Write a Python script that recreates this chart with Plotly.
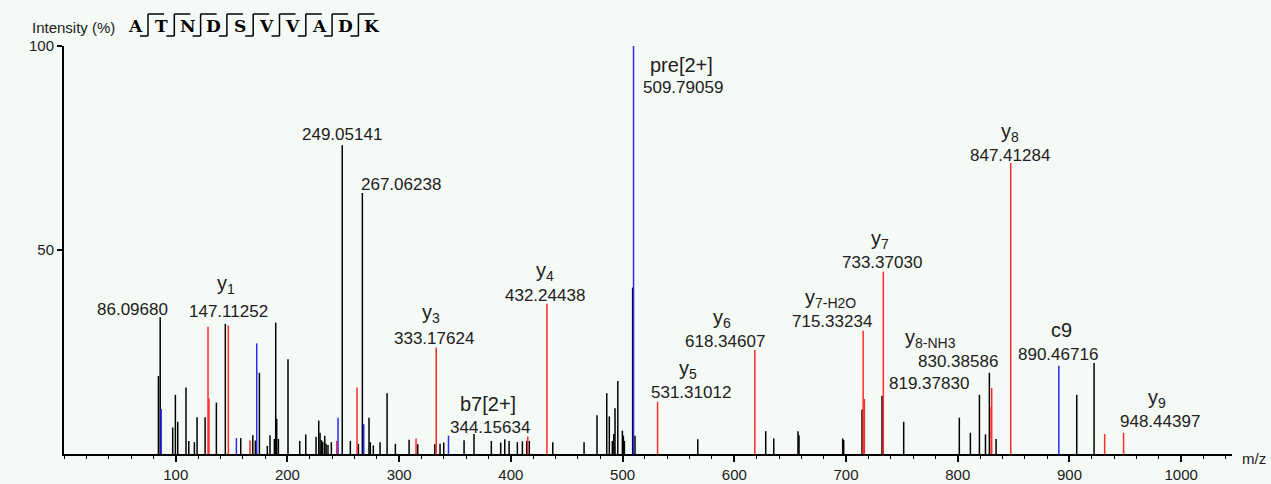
import plotly.graph_objects as go

# ---------------- data ----------------
black_mz = [84.5, 86.0968, 97.3, 99.7, 101.8, 109.2, 111.7, 116.7, 119.1, 126.3, 136.4, 144.4,
            158.2, 169.0, 171.3, 174.9, 182.0, 184.4, 188.3, 189.5, 190.4, 191.9, 200.5, 211.0,
            216.4, 225.6, 228.0, 229.2, 230.4, 231.6, 233.4, 234.6, 236.3, 239.3, 249.05141,
            256.3, 263.5, 267.06238, 273.0, 274.2, 276.9, 282.9, 289.2, 296.6, 308.9, 316.6,
            331.9, 336.6, 339.9, 358.1, 367.0, 382.5, 390.9, 394.5, 398.4, 405.8, 410.3, 414.2,
            416.5, 437.5, 465.5, 477.1, 485.8, 488.1, 490.8, 492.1, 493.2, 495.7, 499.8, 500.7,
            501.6, 509.0, 511.1, 567.3, 628.1, 635.3, 657.0, 657.9, 697.0, 697.9, 714.3, 732.2,
            751.6, 801.4, 811.3, 819.3783, 824.8, 828.3, 834.3, 906.5, 922.0]
black_int = [19.1, 33.5, 6.5, 14.5, 7.9, 16.3, 3.2, 2.9, 9.0, 9.0, 12.6, 31.9,
             3.9, 4.6, 3.3, 19.9, 2.0, 4.6, 3.7, 32.2, 8.6, 3.7, 23.2, 3.2,
             4.8, 4.2, 8.2, 5.2, 3.4, 3.0, 4.5, 2.5, 2.2, 2.9, 75.7,
             3.2, 2.5, 64.0, 8.9, 2.9, 2.1, 2.9, 14.9, 2.5, 3.5, 2.4,
             2.4, 2.5, 2.8, 3.4, 4.9, 3.2, 2.8, 3.6, 3.2, 2.9, 3.1, 3.2,
             3.2, 2.9, 2.9, 9.5, 14.9, 9.2, 3.2, 4.9, 11.2, 17.9, 5.7, 4.5,
             3.2, 40.8, 4.5, 3.6, 5.6, 3.8, 5.6, 4.6, 3.8, 3.4, 10.9, 14.3,
             7.9, 8.9, 5.2, 14.5, 4.8, 19.9, 3.7, 14.5, 22.3]

red_mz = [128.9, 129.8, 147.11252, 166.5, 244.1, 262.3, 315.1, 333.17624, 415.1, 432.24438,
          531.31012, 618.34607, 715.33234, 716.4, 733.3703, 829.9, 830.38586, 847.41284,
          931.5, 948.44397]
red_int = [31.2, 13.6, 31.5, 3.3, 3.2, 16.3, 3.8, 26.1, 4.3, 36.8,
           12.8, 25.5, 30.2, 13.5, 44.7, 11.6, 16.2, 71.3,
           4.9, 5.2]

blue_mz = [87.0, 154.3, 172.5, 245.3, 268.3, 344.15634, 509.79059, 890.46716]
blue_int = [11.0, 3.9, 27.1, 8.9, 7.3, 4.5, 100.0, 21.6]

# labelled peaks: (ion name, m/z value text)
label_names = ["", "y<sub>1</sub>", "", "", "y<sub>3</sub>", "b7[2+]", "y<sub>4</sub>",
               "pre[2+]", "y<sub>5</sub>", "y<sub>6</sub>", "y<sub>7-H2O</sub>", "y<sub>7</sub>",
               "y<sub>8-NH3</sub>", "", "y<sub>8</sub>", "c9", "y<sub>9</sub>"]
label_mz = ["86.09680", "147.11252", "249.05141", "267.06238", "333.17624", "344.15634",
            "432.24438", "509.79059", "531.31012", "618.34607", "715.33234", "733.37030",
            "830.38586", "819.37830", "847.41284", "890.46716", "948.44397"]

sequence = ["A", "T", "N", "D", "S", "V", "V", "A", "D", "K"]
x_ticks = [100, 200, 300, 400, 500, 600, 700, 800, 900, 1000]
y_ticks = [50, 100]

# ---------------- layout constants (pixels) ----------------
W, H = 1271, 484
L, R, T, B = 64, 39, 46, 30
PW, PH = W - L - R, H - T - B
XMAX = PW / 1.1172
BG = "#f6faf6"
FONT = "Liberation Sans, Arial, sans-serif"


def px(x):
    return (x - L) / PW


def py(y):
    return (H - B - y) / PH


def stems(mz, inten):
    xs, ys = [], []
    for m, v in zip(mz, inten):
        xs += [m, m, None]
        ys += [0, v, None]
    return xs, ys


fig = go.Figure()
for mz, inten, col in [(black_mz, black_int, "#000000"),
                       (red_mz, red_int, "#ff2a2a"),
                       (blue_mz, blue_int, "#2a2aff")]:
    xs, ys = stems(mz, inten)
    fig.add_trace(go.Scatter(x=xs, y=ys, mode="lines", line=dict(color=col, width=1.5),
                             hoverinfo="skip", showlegend=False))

# label placements: centre of m/z text in pixel coords; name sits above
num_pos = [(132, 309), (228, 311), (342, 134), (401, 184), (434, 338), (490, 427),
           (545, 295), (683, 87), (691, 392), (725, 341), (832, 321), (882, 262),
           (958, 361), (929, 383), (1010, 155), (1058, 354), (1160, 421)]
name_pos = [None, (226, 284), None, None, (431, 313), (488, 404), (545, 271),
            (681, 65), (688, 369), (722, 318), (830, 298), (880, 239),
            (930, 338), None, (1010, 132), (1061, 330), (1157, 398)]

for nm, val, npos, mpos in zip(label_names, label_mz, name_pos, num_pos):
    fig.add_annotation(xref="paper", yref="paper", x=px(mpos[0]), y=py(mpos[1]),
                       text=val, showarrow=False, xanchor="center", yanchor="middle",
                       font=dict(family=FONT, size=17, color="#202020"))
    if nm and npos:
        fig.add_annotation(xref="paper", yref="paper", x=px(npos[0]), y=py(npos[1]),
                           text=nm, showarrow=False, xanchor="center", yanchor="middle",
                           font=dict(family=FONT, size=20, color="#202020"))

# header
fig.add_annotation(xref="paper", yref="paper", x=px(30), y=py(28), text="Intensity (%)",
                   showarrow=False, xanchor="left", yanchor="middle",
                   font=dict(family=FONT, size=15, color="#202020"))
shapes = []
for i, aa in enumerate(sequence):
    cx = 135 + 26.3 * i
    fig.add_annotation(xref="paper", yref="paper", x=px(cx), y=py(26), text="<b>" + aa + "</b>",
                       showarrow=False, xanchor="center", yanchor="middle",
                       font=dict(family="DejaVu Serif", size=17, color="#000000"))
    if i < len(sequence) - 1:
        gx = 148 + 26.3 * i
        shapes.append(dict(type="line", xref="paper", yref="paper", x0=px(gx), x1=px(gx),
                           y0=py(14), y1=py(36), line=dict(color="black", width=1.5)))
        shapes.append(dict(type="line", xref="paper", yref="paper", x0=px(gx), x1=px(gx + 16),
                           y0=py(14), y1=py(14), line=dict(color="black", width=1.5)))
        shapes.append(dict(type="line", xref="paper", yref="paper", x0=px(gx - 8), x1=px(gx),
                           y0=py(36), y1=py(36), line=dict(color="black", width=1.5)))

fig.add_annotation(xref="paper", yref="paper", x=px(1240), y=py(458), text="m/z",
                   showarrow=False, xanchor="left", yanchor="middle",
                   font=dict(family=FONT, size=15, color="#202020"))

fig.update_layout(
    width=W, height=H, margin=dict(l=L, r=R, t=T, b=B, pad=0, autoexpand=False),
    paper_bgcolor=BG, plot_bgcolor=BG, shapes=shapes,
    xaxis=dict(range=[0, XMAX], tickvals=x_ticks, ticks="outside", ticklen=6, tickwidth=1.5,
               tickcolor="black", showline=True, linecolor="black", linewidth=2,
               showgrid=False, zeroline=False, automargin=False,
               tickfont=dict(family=FONT, size=15, color="#202020"),
               minor=dict(dtick=20, tick0=0, ticks="outside", ticklen=3, tickcolor="black",
                          tickwidth=1, showgrid=False)),
    yaxis=dict(range=[0, 100], tickvals=y_ticks, ticks="outside", ticklen=5, tickwidth=1.5,
               tickcolor="black", showline=True, linecolor="black", linewidth=2,
               showgrid=False, zeroline=False, automargin=False,
               tickfont=dict(family=FONT, size=15, color="#202020")),
)

fig.write_html("out.html", config={"displayModeBar": False},
               post_script="document.body.style.margin='0';")
